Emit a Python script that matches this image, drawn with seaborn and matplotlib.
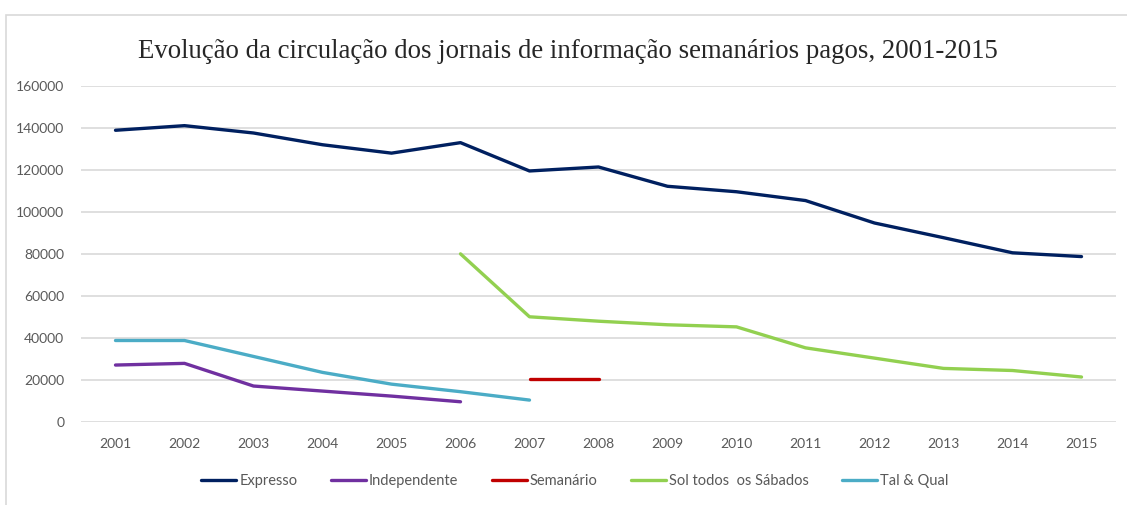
import numpy as np
import pandas as pd
import matplotlib.pyplot as plt
import seaborn as sns
from matplotlib.patches import Rectangle

sns.set_theme(style="white")
plt.rcParams['font.family'] = ['Lato', 'DejaVu Sans']

years = [str(y) for y in range(2001, 2016)]
nan = np.nan

expresso = [138900, 141100, 137600, 132000, 128000, 133000, 119500, 121400,
            112200, 109600, 105400, 94700, 87700, 80500, 78700]
independente = [27000, 27800, 17000, 14600, 12200, 9500, nan, nan,
                nan, nan, nan, nan, nan, nan, nan]
semanario = [nan, nan, nan, nan, nan, nan, 20200, 20200,
             nan, nan, nan, nan, nan, nan, nan]
sol = [nan, nan, nan, nan, nan, 80000, 50000, 47900,
       46200, 45200, 35200, 30300, 25400, 24400, 21300]
tal_qual = [38700, 38700, 31100, 23500, 17900, 14300, 10300, nan,
            nan, nan, nan, nan, nan, nan, nan]

series = {
    "Expresso": expresso,
    "Independente": independente,
    "Semanário": semanario,
    "Sol todos  os Sábados": sol,
    "Tal & Qual": tal_qual,
}
colors = ["#002060", "#7030A0", "#C00000", "#92D050", "#4BACC6"]

rows = []
for name, vals in series.items():
    for i, v in enumerate(vals):
        rows.append({"pos": i, "ano": years[i], "jornal": name, "circ": v})
df = pd.DataFrame(rows).dropna()

fig = plt.figure(figsize=(11.27, 5.05), dpi=100)
ax = fig.add_axes([81 / 1127, 1 - 421.7 / 505, (1116 - 81) / 1127, (421.7 - 86) / 505])

# chart frame
fig.patches.append(Rectangle((6 / 1127, -0.1), 1.2, 1 - 15 / 505 + 0.1,
                             transform=fig.transFigure, fill=False,
                             edgecolor="#d9d9d9", linewidth=1.2))

sns.lineplot(data=df, x="pos", y="circ", hue="jornal", palette=colors,
             linewidth=2.4, ax=ax, sort=True, estimator=None)

ax.set_xlim(-0.5, len(years) - 0.5)
ax.set_ylim(0, 160000)
ax.set_yticks(np.arange(0, 160001, 20000))
ax.set_xticks(range(len(years)))
ax.set_xticklabels(years)
ax.tick_params(axis="both", colors="#595959", labelsize=10, length=0)
ax.tick_params(axis="x", pad=12)
ax.tick_params(axis="y", pad=12)
ax.grid(axis="y", color="#d9d9d9", linewidth=1.2)
ax.set_axisbelow(True)
for s in ax.spines.values():
    s.set_visible(False)
ax.set_xlabel("")
ax.set_ylabel("")

fig.text(568 / 1127, 1 - 52 / 505, "Evolução da circulação dos jornais de informação semanários pagos, 2001-2015",
         ha="center", va="center", fontsize=19.3, family=["Liberation Serif", "DejaVu Serif"])

handles, labels = ax.get_legend_handles_labels()
ax.legend(handles, labels, loc="center", bbox_to_anchor=(575 / 1127, 1 - 481 / 505),
          bbox_transform=fig.transFigure, ncol=5, frameon=False, fontsize=10.5,
          handlelength=2.4, handletextpad=0.2, columnspacing=2.3,
          labelcolor="#595959")

fig.savefig("out.png", dpi=100)
